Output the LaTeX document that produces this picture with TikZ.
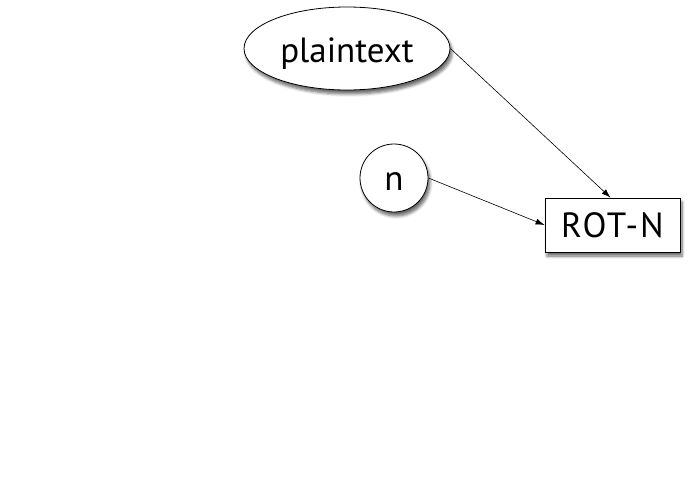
\documentclass[tikz,border=0pt]{standalone}
\usepackage{fontspec}
\setmainfont{PT Sans}
\usetikzlibrary{shapes.geometric,arrows.meta,shadows.blur}
\tikzset{
  base/.style={draw=black, line width=0.8pt, fill=white, inner sep=0pt,
    font=\fontsize{35}{38}\selectfont,
    blur shadow={shadow xshift=2pt, shadow yshift=-4pt, shadow blur steps=6, shadow blur radius=3pt, shadow opacity=60}},
  ellbox/.style={base, ellipse, minimum width=206pt, minimum height=83pt},
  circbox/.style={base, circle, minimum size=68pt},
  rectbox/.style={base, rectangle, minimum width=135pt, minimum height=54pt},
  conn/.style={draw=black, line width=0.6pt, -{Latex[length=9pt,width=6pt]}}
}
\begin{document}
\begin{tikzpicture}[x=1pt,y=1pt]
\useasboundingbox (0,0) rectangle (700,-500);
\node[ellbox] (pt) at (347,-48.5) {\raisebox{-5pt}[\height][\depth]{plaintext}};
\node[circbox] (n) at (394,-178) {\raisebox{-4pt}[\height][\depth]{n}};
\node[rectbox] (rot) at (612.5,-225) {\addfontfeature{LetterSpace=6}ROT-N};
\draw[conn] (pt.east) -- ([xshift=-2pt]rot.north);
\draw[conn] (n.east) -- (rot.west);
\end{tikzpicture}
\end{document}
